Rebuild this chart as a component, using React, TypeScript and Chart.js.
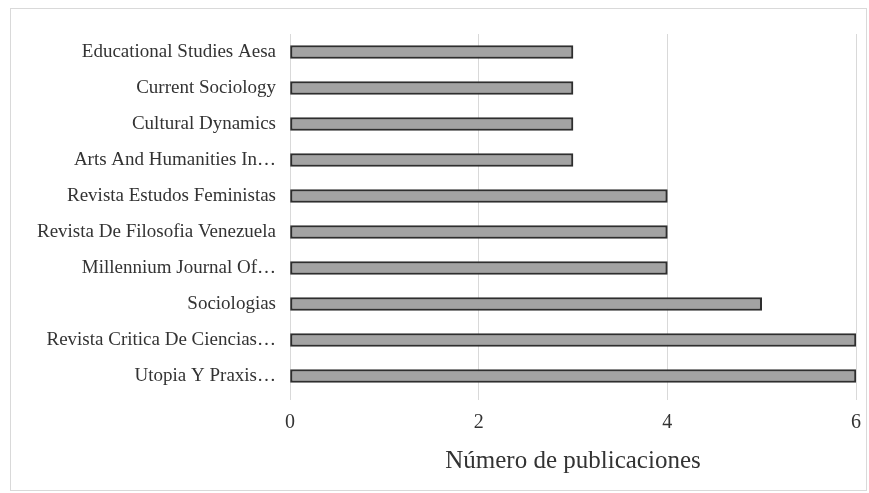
import React, { useEffect, useRef } from "react";
import { Chart, registerables } from "chart.js";

Chart.register(...registerables);

const categories = [
  "Educational Studies Aesa",
  "Current Sociology",
  "Cultural Dynamics",
  "Arts And Humanities In…",
  "Revista Estudos Feministas",
  "Revista De Filosofia Venezuela",
  "Millennium Journal Of…",
  "Sociologias",
  "Revista Critica De Ciencias…",
  "Utopia Y Praxis…",
];
const publicaciones = [3, 3, 3, 3, 4, 4, 4, 5, 6, 6];
const xTicks = [0, 2, 4, 6];
const xTitle = "Número de publicaciones";

export default function App() {
  const ref = useRef<HTMLCanvasElement | null>(null);
  useEffect(() => {
    document.body.style.margin = "0";
    const ctx = ref.current!;
    const chart = new Chart(ctx, {
      type: "bar",
      data: {
        labels: categories,
        datasets: [
          {
            data: publicaciones,
            backgroundColor: "#a3a3a3",
            borderColor: "#2e2e2e",
            borderWidth: 2,
            borderSkipped: false,
            barThickness: 13,
          },
        ],
      },
      options: {
        indexAxis: "y",
        animation: false,
        responsive: false,
        devicePixelRatio: 1,
        layout: { padding: { left: 0, right: 13, top: 34, bottom: 17 } },
        plugins: { legend: { display: false }, tooltip: { enabled: false } },
        scales: {
          x: {
            min: 0,
            max: 6,
            afterBuildTicks: (s: any) => {
              s.ticks = xTicks.map((v) => ({ value: v }));
            },
            grid: { color: "#d9d9d9", lineWidth: 1, tickLength: 6, drawTicks: true },
            border: { display: false },
            ticks: {
              padding: 11,
              color: "#333",
              font: { family: "Liberation Serif", size: 20 },
            },
            title: {
              display: true,
              text: xTitle,
              color: "#333",
              font: { family: "Liberation Serif", size: 25 },
              padding: { top: 4, bottom: 0 },
            },
            afterFit: (s: any) => {
              s.height = 82;
              s.paddingLeft = 0;
              s.paddingRight = 0;
            },
          },
          y: {
            grid: { display: false, drawTicks: false },
            border: { display: true, color: "#d9d9d9", width: 1 },
            ticks: {
              padding: 14,
              color: "#333",
              font: { family: "Liberation Serif", size: 19 },
            },
            afterFit: (s: any) => {
              s.width = 290;
              s.paddingTop = 0;
              s.paddingBottom = 0;
            },
          },
        },
      },
    });
    return () => chart.destroy();
  }, []);
  return (
    <div style={{ position: "relative", width: 869, height: 493, background: "#fff", overflow: "hidden" }}>
      <div
        style={{
          position: "absolute",
          left: 10,
          top: 8,
          width: 855,
          height: 481,
          border: "1px solid #d9d9d9",
        }}
      />
      <canvas ref={ref} width={869} height={493} style={{ position: "absolute", left: 0, top: 0 }} />
    </div>
  );
}
